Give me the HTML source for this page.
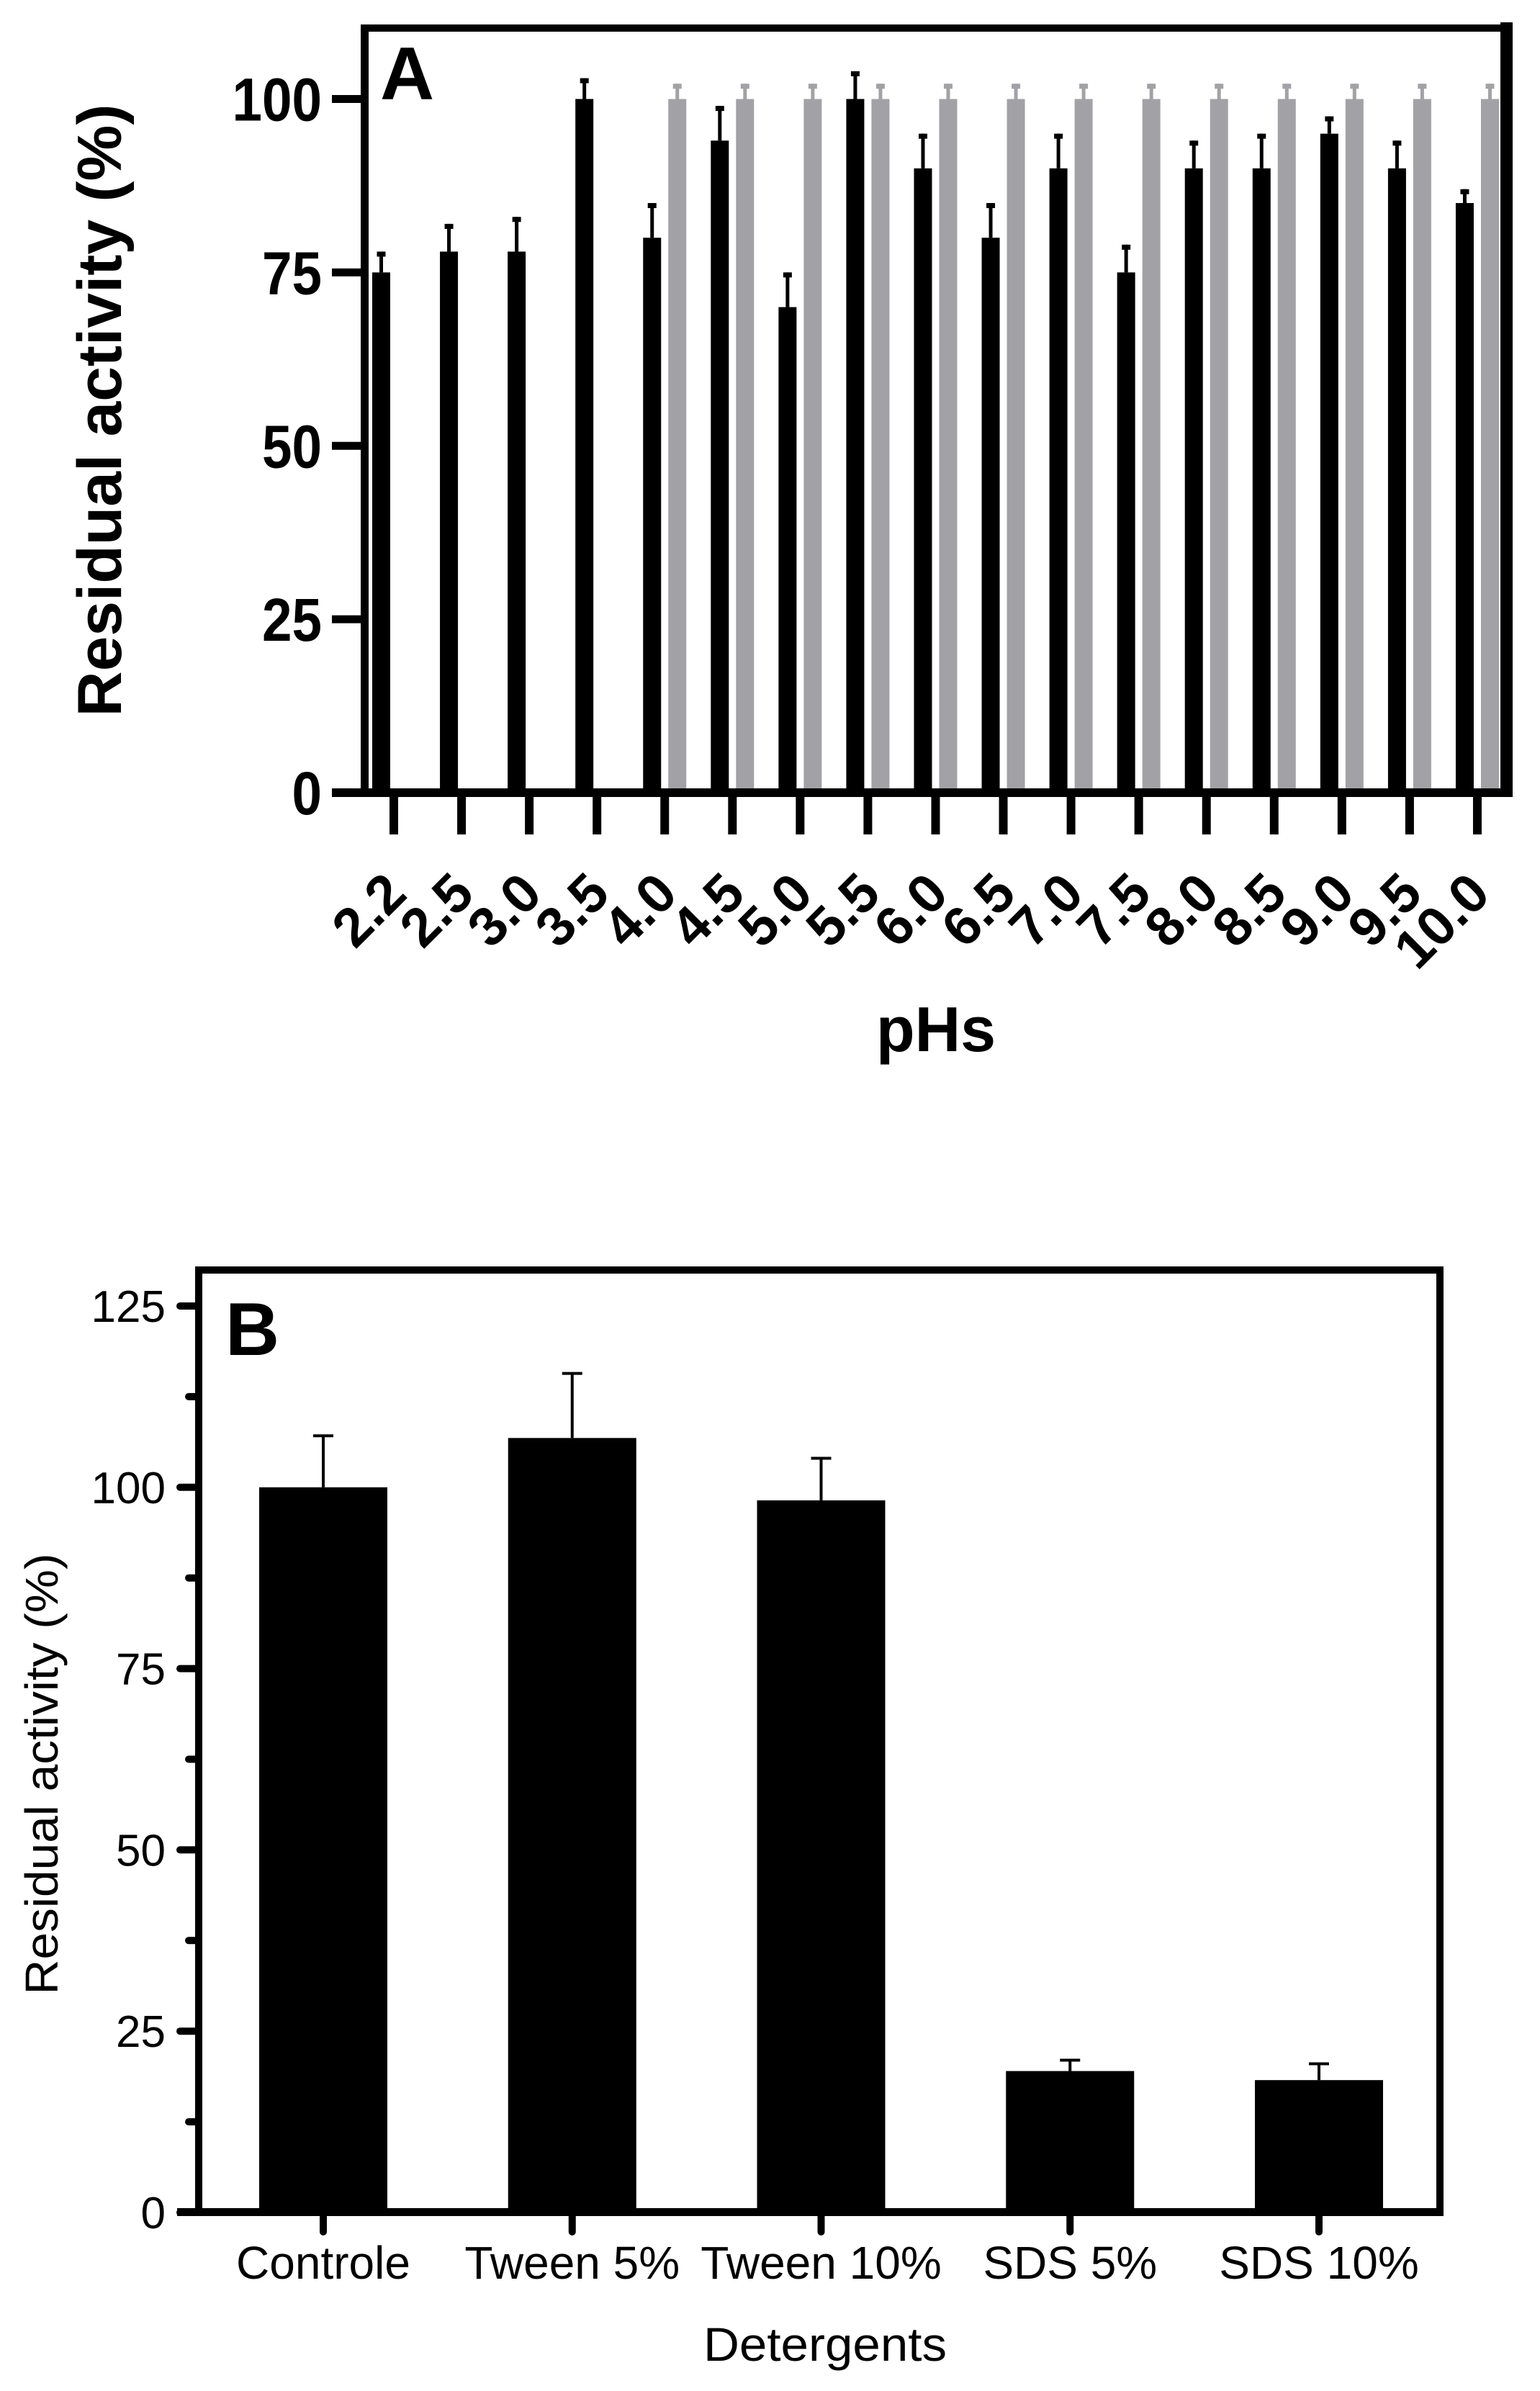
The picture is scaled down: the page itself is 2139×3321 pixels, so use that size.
<!DOCTYPE html>
<html><head><meta charset="utf-8"><style>html,body{margin:0;padding:0;background:#fff}svg{display:block}</style></head>
<body>
<svg id="s" width="2139" height="3321" viewBox="0 0 2139 3321" xmlns="http://www.w3.org/2000/svg" font-family="'Liberation Sans', sans-serif">
<g id="ga"></g>
<g id="gb"></g>
</svg>
<script>
const phLabels = ["2.2","2.5","3.0","3.5","4.0","4.5","5.0","5.5","6.0","6.5","7.0","7.5","8.0","8.5","9.0","9.5","10.0"];
const phBlack = [75,78,78,100,80,94,70,100,90,80,90,75,90,90,95,90,85];
const phBlackErr = [78,82,83,103,85,99,75,104,95,85,95,79,94,95,97.5,94,87];
const phGray = [null,null,null,null,100,100,100,100,100,100,100,100,100,100,100,100,100];
const phGrayErr = [null,null,null,null,102.2,102.2,102.2,102.2,102.2,102.2,102.2,102.2,102.2,102.2,102.2,102.2,102.2];
const aTicks = [0,25,50,75,100];

const detCats = ["Controle","Tween 5%","Tween 10%","SDS 5%","SDS 10%"];
const detVals = [100,106.8,98.2,19.5,18.25];
const detErr = [107.1,115.7,104,21,20.5];
const bTicks = [0,25,50,75,100,125];

const NS="http://www.w3.org/2000/svg";
function mk(p,tag,at,txt){const e=document.createElementNS(NS,tag);for(const k in at)e.setAttribute(k,at[k]);if(txt!=null)e.textContent=txt;p.appendChild(e);return e;}

// ---------- Chart A ----------
const ga=document.getElementById('ga');
const ay=v=>1101-v*9.635;
const ax=i=>547+i*94.06;
mk(ga,'rect',{x:501,y:34,width:1600,height:10,fill:'#000'});
mk(ga,'rect',{x:501,y:34,width:11,height:1073,fill:'#000'});
mk(ga,'rect',{x:2084,y:31,width:17,height:1076,fill:'#000'});
phLabels.forEach((l,i)=>{
  const c=ax(i);
  if(phGray[i]!=null){
    const gb=mk(ga,'rect',{x:c+5,y:ay(phGray[i]),width:25,height:ay(0)-ay(phGray[i]),fill:'#a2a2a6'});
    
    
    mk(ga,'rect',{x:c+15,y:ay(phGrayErr[i]),width:5,height:ay(phGray[i])-ay(phGrayErr[i]),fill:'#a2a2a6'});
    mk(ga,'rect',{x:c+11.5,y:ay(phGrayErr[i]),width:12,height:7,fill:'#a2a2a6'});
  }
  const bb=mk(ga,'rect',{x:c-30,y:ay(phBlack[i]),width:25,height:ay(0)-ay(phBlack[i]),fill:'#000'});
  
  
  mk(ga,'rect',{x:c-20,y:ay(phBlackErr[i]),width:5,height:ay(phBlack[i])-ay(phBlackErr[i]),fill:'#000'});
  mk(ga,'rect',{x:c-23.5,y:ay(phBlackErr[i]),width:12,height:7,fill:'#000'});
  mk(ga,'rect',{x:c-6,y:1101,width:12,height:58,fill:'#000'});
  const t=mk(ga,'text',{x:c+21,y:1245,'text-anchor':'end','font-size':76,'font-weight':'bold',transform:`rotate(-45 ${c+21} 1245)`},l);
  
  
});
mk(ga,'rect',{x:461,y:1095,width:1640,height:12,fill:'#000'});
aTicks.forEach(v=>{
  mk(ga,'rect',{x:461,y:ay(v)-5.5,width:45,height:11,fill:'#000'});
  const t=mk(ga,'text',{x:447,y:ay(v)+30,'text-anchor':'end','font-size':84,'font-weight':'bold',textLength:String(v).length*41.5,lengthAdjust:'spacingAndGlyphs'},v);
  
  
});
let e;
e=mk(ga,'text',{x:528,y:138,'font-size':104,'font-weight':'bold'},'A');

e=mk(ga,'text',{x:1300,y:1460,'text-anchor':'middle','font-size':88,'font-weight':'bold'},'pHs');

e=mk(ga,'text',{x:168,y:570,'text-anchor':'middle','font-size':86,'font-weight':'bold',textLength:851,lengthAdjust:'spacingAndGlyphs',transform:'rotate(-90 168 570)'},'Residual activity (%)');


// ---------- Chart B ----------
const gb=document.getElementById('gb');
const by=v=>3073-v*10.072;
const bx=i=>449+i*345.75;
detCats.forEach((c,i)=>{
  const x=bx(i);
  const r=mk(gb,'rect',{x:x-89,y:by(detVals[i]),width:178,height:by(0)-by(detVals[i]),fill:'#000'});
  
  
  mk(gb,'line',{x1:x,x2:x,y1:by(detVals[i]),y2:by(detErr[i]),stroke:'#000','stroke-width':4});
  mk(gb,'line',{x1:x-14,x2:x+14,y1:by(detErr[i]),y2:by(detErr[i]),stroke:'#000','stroke-width':4});
  mk(gb,'line',{x1:x,x2:x,y1:3078,y2:3100,stroke:'#000','stroke-width':10,'stroke-linecap':'round'});
  const t=mk(gb,'text',{x:x,y:3165,'text-anchor':'middle','font-size':64},c);
  
  
});
mk(gb,'rect',{x:271,y:1759,width:1734,height:10,fill:'#000'});
mk(gb,'rect',{x:271,y:1759,width:10,height:1319,fill:'#000'});
mk(gb,'rect',{x:1995,y:1759,width:10,height:1319,fill:'#000'});
mk(gb,'rect',{x:246,y:3067,width:1759,height:11,fill:'#000'});
bTicks.forEach(v=>{
  mk(gb,'line',{x1:250,x2:275,y1:by(v),y2:by(v),stroke:'#000','stroke-width':10,'stroke-linecap':'round'});
  if(v<125) mk(gb,'line',{x1:262,x2:275,y1:by(v+12.5),y2:by(v+12.5),stroke:'#000','stroke-width':10,'stroke-linecap':'round'});
  const t=mk(gb,'text',{x:230,y:by(v)+22,'text-anchor':'end','font-size':62},v);
  
  
});
e=mk(gb,'text',{x:313,y:1882,'font-size':104,'font-weight':'bold'},'B');

e=mk(gb,'text',{x:1146,y:3279,'text-anchor':'middle','font-size':66,textLength:338,lengthAdjust:'spacingAndGlyphs'},'Detergents');

e=mk(gb,'text',{x:80,y:2464,'text-anchor':'middle','font-size':64,textLength:613,lengthAdjust:'spacingAndGlyphs',transform:'rotate(-90 80 2464)'},'Residual activity (%)');

</script>
</body></html>
